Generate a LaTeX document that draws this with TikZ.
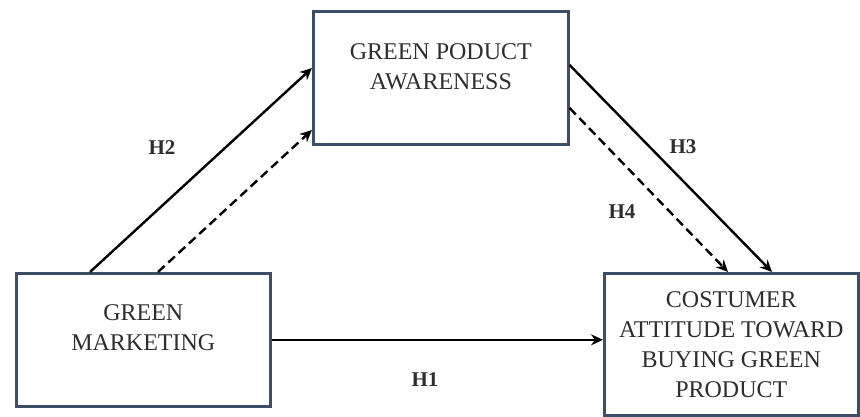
\documentclass[tikz,border=0pt]{standalone}
\usepackage{fontspec}
\setmainfont{Liberation Serif}
\usetikzlibrary{arrows.meta}
\definecolor{boxline}{HTML}{3B4F69}
\definecolor{boxtext}{HTML}{2E2E2E}
\tikzset{
  varbox/.style={draw=boxline, line width=2.6pt, fill=white, align=center,
    text=boxtext, inner sep=0pt, font=\fontsize{24}{30}\selectfont},
  hyp/.style={black, line width=2.4pt, -{Stealth[length=12pt,width=11pt,inset=4pt]}},
  hlabel/.style={font=\fontsize{21}{24}\selectfont\bfseries, text=boxtext}
}
\begin{document}
\begin{tikzpicture}[x=1pt,y=-1pt]
        \useasboundingbox (0,0) rectangle (860,416);
        % Boxes
        \node[varbox, minimum width=255pt, minimum height=133pt, anchor=north west,
              text depth=22pt] (gpa) at (312,10) {GREEN PODUCT\\AWARENESS};
        \node[varbox, minimum width=254pt, minimum height=133pt, anchor=north west,
              text depth=24pt] (gm) at (15,272) {GREEN\\MARKETING};
        \node[varbox, minimum width=254pt, minimum height=142pt, anchor=north west]
              (cab) at (603,272) {COSTUMER\\ATTITUDE TOWARD\\BUYING GREEN\\PRODUCT};
        % Hypotheses
        \draw[hyp] ([xshift=75pt]gm.north west) -- ([yshift=-58pt]gpa.north west);
        \draw[hyp, dashed, dash pattern=on 9pt off 5pt] ([xshift=143pt]gm.north west) -- ([yshift=-120pt]gpa.north west);
        \draw[hyp] ([yshift=-55pt]gpa.north east) -- ([xshift=169pt]cab.north west);
        \draw[hyp, dashed, dash pattern=on 9pt off 5pt] ([yshift=-98pt]gpa.north east) -- ([xshift=125pt]cab.north west);
        \draw[hyp] (gm.east) -- (gm.east -| cab.west);
        % Labels
        \node[hlabel] (h2) at (162,148) {H2};
        \node[hlabel] (h3) at (683,147) {H3};
        \node[hlabel] (h4) at (622,212) {H4};
        \node[hlabel] (h1) at (425,380) {H1};
    \end{tikzpicture}
\end{document}
